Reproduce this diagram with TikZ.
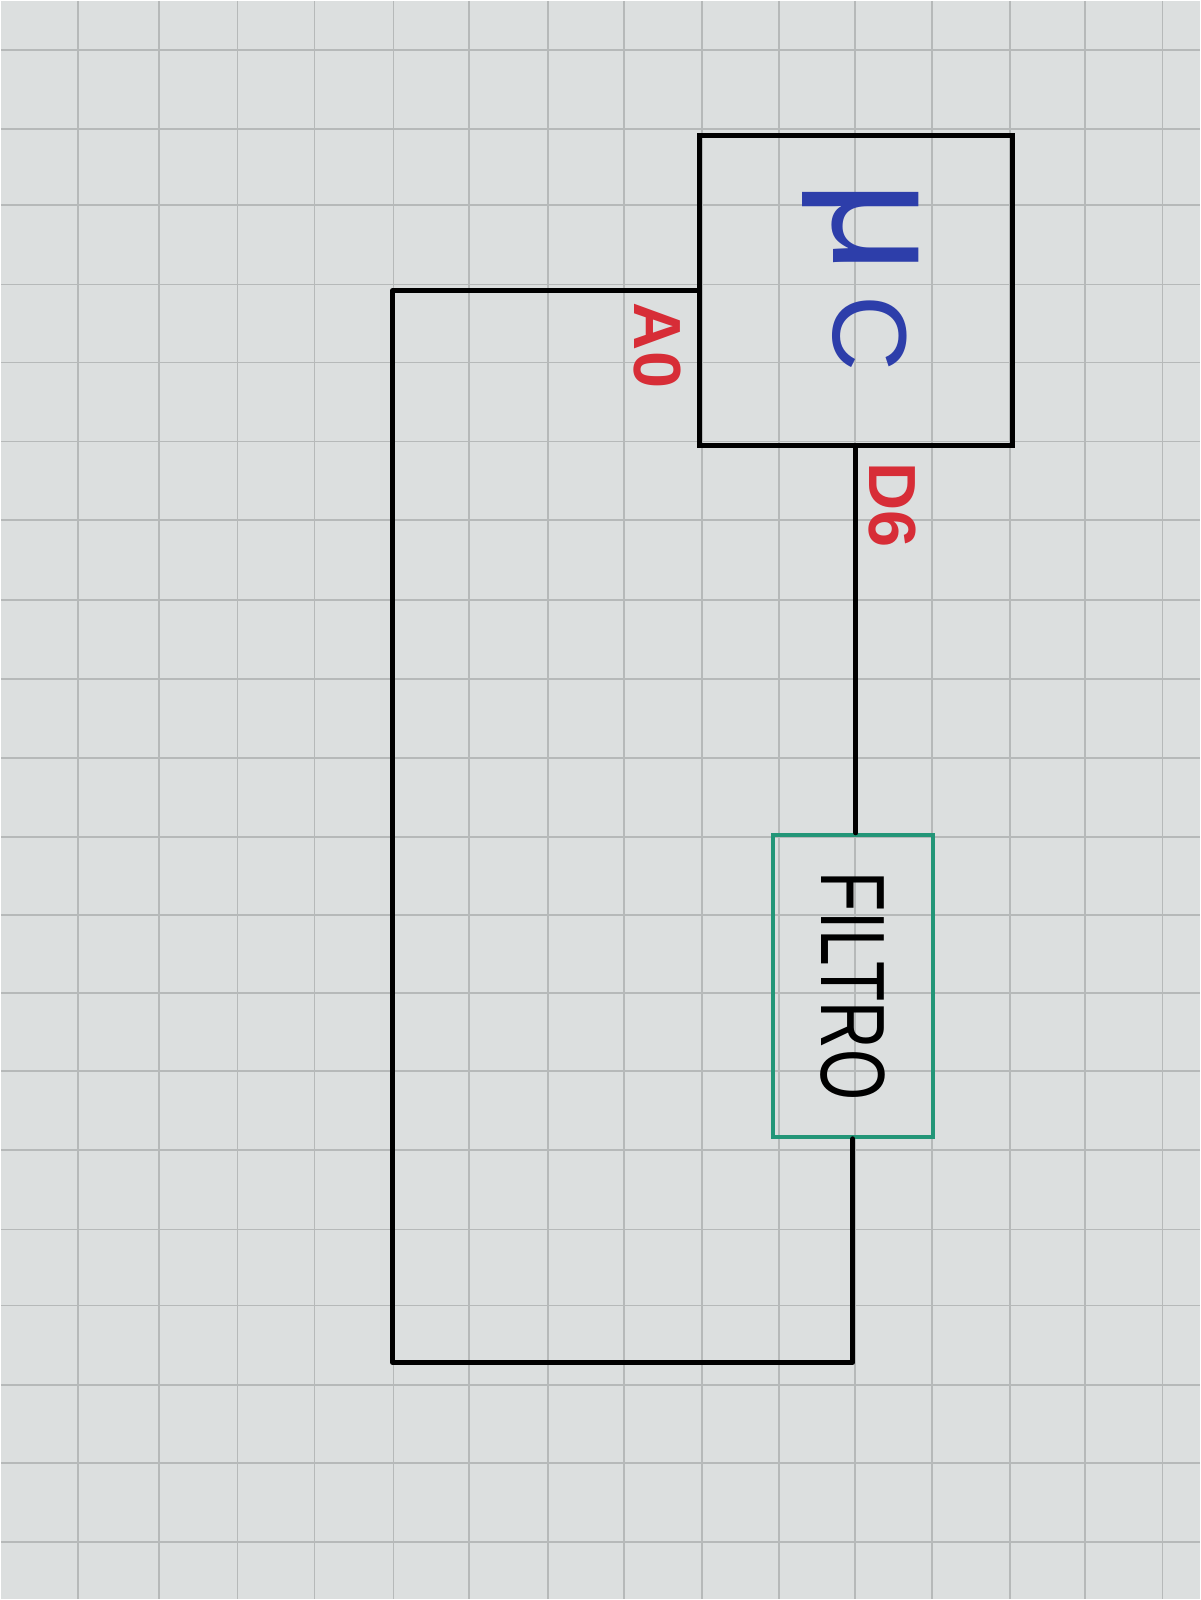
\documentclass[tikz,border=0pt]{standalone}
\usepackage{fontspec}
\setmainfont{Liberation Sans}
\definecolor{paper}{RGB}{220,223,223}
\definecolor{gridgray}{RGB}{182,185,185}
\definecolor{inkblue}{RGB}{45,62,170}
\definecolor{inkred}{RGB}{215,45,55}
\definecolor{inkgreen}{RGB}{35,150,120}
\begin{document}
\begin{tikzpicture}[x=0.1mm,y=-0.1mm,
    blockbox/.style={draw,line width=1.4pt,inner sep=0pt},
    pinlabel/.style={text=inkred,inner sep=0pt,rotate=-90,font=\fontsize{19}{19}\selectfont\bfseries},
    wire/.style={line width=1.4pt,line cap=round,line join=round}]
    % paper and squares
    \fill[paper] (0,0) rectangle (1200,1600);
    \foreach \gx in {77,158,237,314,393,469,548,624,702,779,855,932,1010,1085,1163}
      \draw[gridgray,line width=0.5pt] (\gx,0) -- (\gx,1600);
    \foreach \gy in {49,128,204,284,362,441,520,600,679,758,837,915,993,1071,1150,1230,1306,1386,1464,1543}
      \draw[gridgray,line width=0.5pt] (0,\gy) -- (1200,\gy);
    % blocks
    \node[blockbox,minimum width=31.3mm,minimum height=31mm] (mc) at (856,290) {};
    \node[text=inkblue,rotate=-90,anchor=base west,inner sep=0pt] (mclabel) at (834,180)
      {\fontsize{46}{46}\selectfont μ\hspace{6pt}\fontsize{30}{30}\selectfont C};
    \node[blockbox,draw=inkgreen,line width=1.2pt,minimum width=16mm,minimum height=30.2mm] (filtro) at (853,986) {};
    \node[rotate=-90,font=\fontsize{26}{26}\selectfont] (filtrolabel) at (filtro.center) {\scalebox{0.72}[1]{FILTRO}};
    % pins
    \node[pinlabel] (a0) at (657,345) {A0};
    \node[pinlabel] (d6) at (893,505) {D6};
    % wires
    \coordinate (loopbl) at (392,1363);
    \draw[wire] (mc.south) -- (mc.south |- filtro.north);
    \draw[wire] (mc.west) -| (loopbl) -- (loopbl -| filtro.south) -- (filtro.south);
\end{tikzpicture}
\end{document}
